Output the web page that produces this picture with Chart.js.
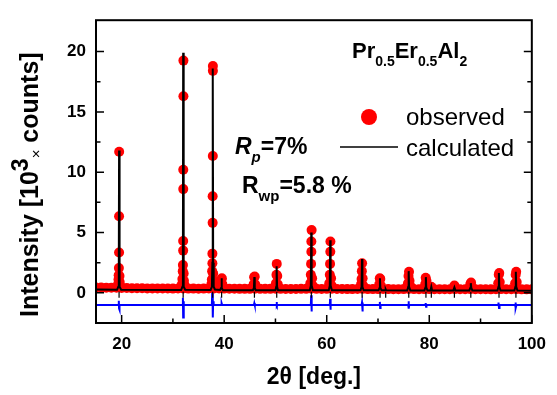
<!DOCTYPE html>
<html>
<head>
<meta charset="utf-8">
<script src="https://cdn.jsdelivr.net/npm/chart.js@4.4.1/dist/chart.umd.min.js"></script>
<style>
  html, body { margin: 0; padding: 0; background: #fff; }
  #wrap { width: 557px; height: 395px; }
</style>
</head>
<body>
<div id="wrap"><canvas id="xrd" width="557" height="395"></canvas></div>
<script>
// --- data (2theta in deg, intensity in 10^3 counts) ---

// observed background, one point per degree
const observedBackground = [
  [15,0.45],[16,0.44],[17,0.43],[18,0.42],[19,0.42],[20,0.41],[21,0.40],[22,0.39],[23,0.38],[24,0.38],
  [25,0.37],[26,0.37],[27,0.36],[28,0.36],[29,0.36],[30,0.35],[31,0.36],[32,0.36],[33,0.35],[34,0.35],
  [35,0.34],[36,0.35],[37,0.36],[38,0.36],[39,0.36],[40,0.35],[41,0.34],[42,0.34],[43,0.33],[44,0.33],
  [45,0.33],[46,0.34],[47,0.33],[48,0.33],[49,0.33],[50,0.34],[51,0.33],[52,0.32],[53,0.32],[54,0.32],
  [55,0.33],[56,0.33],[57,0.34],[58,0.33],[59,0.32],[60,0.33],[61,0.34],[62,0.32],[63,0.32],[64,0.31],
  [65,0.31],[66,0.32],[67,0.33],[68,0.31],[69,0.31],[70,0.31],[71,0.32],[72,0.31],[73,0.30],[74,0.30],
  [75,0.31],[76,0.32],[77,0.31],[78,0.30],[79,0.31],[80,0.31],[81,0.30],[82,0.30],[83,0.30],[84,0.30],
  [85,0.31],[86,0.30],[87,0.30],[88,0.31],[89,0.30],[90,0.30],[91,0.30],[92,0.29],[93,0.30],[94,0.31],
  [95,0.30],[96,0.30],[97,0.31],[98,0.29],[99,0.29],[100,0.29]
];

// observed points on the reflections
const observedPeaks = [
  [19.30,0.7],[19.38,1.1],[19.42,1.45],[19.46,2.05],[19.50,3.35],[19.50,6.35],[19.52,11.7],[19.58,1.4],[19.62,0.9],[19.70,0.6],
  [31.75,0.7],[31.85,1.15],[31.92,1.8],[31.95,2.3],[32.00,3.5],[32.00,4.3],[32.02,8.6],[32.02,10.2],[32.05,16.3],[32.05,19.25],[32.10,1.6],[32.15,1.0],[32.25,0.65],
  [37.50,0.7],[37.60,1.1],[37.65,1.8],[37.70,2.45],[37.70,3.25],[37.75,5.8],[37.75,8.0],[37.78,11.35],[37.80,18.4],[37.80,18.8],[37.85,1.6],[37.90,1.0],[38.00,0.6],
  [39.35,0.7],[39.45,1.1],[39.55,1.2],[39.65,0.7],
  [45.75,0.7],[45.85,1.3],[45.95,1.35],[46.05,0.7],
  [50.10,0.8],[50.20,1.5],[50.25,2.4],[50.35,1.4],[50.45,0.7],
  [56.80,0.8],[56.90,1.5],[56.95,2.4],[57.00,3.4],[57.00,4.25],[57.05,5.2],[57.15,1.2],[57.25,0.6],
  [60.50,0.8],[60.60,1.5],[60.65,2.4],[60.70,3.4],[60.72,4.25],[60.85,1.2],[60.95,0.6],
  [66.70,0.7],[66.80,1.15],[66.85,1.8],[66.90,2.45],[67.00,1.2],[67.10,0.6],
  [70.25,0.7],[70.35,1.2],[70.45,1.15],[70.55,0.6],
  [75.85,0.8],[75.95,1.4],[76.05,1.75],[76.15,1.0],[76.25,0.6],
  [79.20,0.7],[79.30,1.25],[79.45,1.0],[79.55,0.6],
  [80.40,0.5],[84.90,0.6],
  [88.00,0.7],[88.15,0.85],[88.30,0.5],
  [93.45,0.8],[93.55,1.5],[93.65,1.65],[93.75,0.9],
  [96.75,0.8],[96.85,1.5],[96.95,1.75],[97.05,0.9]
];

// calculated profile
const calculated = [
  [15,0.28],[19.1,0.25],[19.35,0.5],[19.45,2.5],[19.5,11.8],[19.55,2.5],[19.65,0.5],[19.9,0.26],
  [31.6,0.23],[31.85,0.5],[31.95,2.5],[32.0,19.9],[32.05,2.5],[32.15,0.5],[32.4,0.25],
  [37.35,0.24],[37.6,0.5],[37.7,2.5],[37.77,18.6],[37.85,2.5],[37.95,0.5],[38.2,0.28],
  [39.2,0.24],[39.4,0.4],[39.48,1.2],[39.56,0.4],[39.75,0.22],
  [45.6,0.22],[45.8,0.4],[45.88,1.3],[45.96,0.4],[46.15,0.22],
  [50.0,0.22],[50.15,0.5],[50.23,2.2],[50.32,0.5],[50.5,0.22],
  [56.7,0.22],[56.9,0.6],[56.98,5.0],[57.06,0.6],[57.3,0.22],
  [60.4,0.22],[60.6,0.6],[60.68,4.35],[60.76,0.6],[61.0,0.22],
  [66.6,0.21],[66.8,0.5],[66.88,2.8],[66.96,0.5],[67.2,0.21],
  [70.1,0.21],[70.3,0.4],[70.38,1.2],[70.46,0.4],[70.7,0.21],
  [71.4,0.21],[71.5,0.3],[71.6,0.21],
  [75.7,0.2],[75.9,0.5],[75.98,1.8],[76.06,0.5],[76.3,0.2],
  [79.05,0.2],[79.25,0.45],[79.33,1.3],[79.41,0.45],[79.65,0.2],
  [80.25,0.2],[80.4,0.5],[80.55,0.2],
  [84.7,0.2],[84.9,0.45],[85.1,0.2],
  [87.8,0.2],[88.0,0.4],[88.1,0.8],[88.2,0.4],[88.4,0.2],
  [93.3,0.19],[93.5,0.5],[93.58,1.65],[93.66,0.5],[93.9,0.19],
  [96.6,0.19],[96.8,0.5],[96.88,1.75],[96.96,0.5],[97.2,0.19],
  [100,0.18]
];

// observed - calculated (shifted down)
const difference = [
  [15,-1.0],[19.35,-1.0],[19.45,-0.65],[19.5,-1.3],[19.55,-1.4],[19.62,-1.0],
  [31.85,-1.0],[31.95,-0.4],[32.0,-2.05],[32.08,-0.7],[32.15,-1.0],
  [37.6,-1.0],[37.7,0.7],[37.78,-2.05],[37.85,-0.7],[37.95,-1.0],
  [39.4,-1.0],[39.5,-0.85],[39.6,-1.0],
  [45.8,-1.0],[45.88,-0.85],[45.96,-1.0],
  [50.15,-1.0],[50.22,-0.75],[50.3,-1.1],[50.4,-1.0],
  [56.9,-1.0],[56.97,-0.2],[57.03,-1.55],[57.1,-1.0],
  [60.6,-1.0],[60.66,-0.5],[60.72,-1.4],[60.8,-1.0],
  [66.8,-1.0],[66.88,-0.8],[66.95,-1.55],[67.05,-1.0],
  [70.3,-1.0],[70.36,-0.75],[70.42,-1.25],[70.5,-1.0],
  [75.9,-1.0],[75.96,-0.7],[76.02,-1.3],[76.1,-1.0],
  [79.25,-1.0],[79.3,-0.85],[79.38,-1.15],[79.45,-1.0],
  [93.45,-1.0],[93.5,-0.8],[93.6,-1.25],[93.7,-1.0],
  [96.75,-1.0],[96.8,-0.8],[96.9,-1.25],[97.0,-1.0],
  [100,-1.0]
];

// Bragg reflection markers
const braggPositions = [19.5, 32.0, 37.75, 39.5, 45.9, 50.25, 57.0, 60.7, 66.9, 70.4, 71.5, 76.0, 79.35, 80.4, 84.9, 88.1, 93.6, 96.9];
const braggLevel = -0.15;

const xMajorTicks = [20, 40, 60, 80, 100];
const xMinorTicks = [30, 50, 70, 90];
const yMajorTicks = [0, 5, 10, 15, 20];
const yMinorTicks = [2.5, 7.5, 12.5, 17.5];

const FONT = "'Liberation Sans', Arial, sans-serif";

const toPoints = arr => arr.map(([x, y]) => ({ x, y }));

// draws a run of text pieces with different fonts / vertical offsets
function drawRuns(ctx, x, y, runs) {
  runs.forEach(r => {
    ctx.font = r.font;
    ctx.fillText(r.text, x, y + (r.dy || 0));
    x += ctx.measureText(r.text).width;
  });
  return x;
}

const frameTicks = {
  id: 'frameTicks',
  afterDatasetsDraw(chart) {
    const { ctx, chartArea: a, scales: { x, y } } = chart;
    ctx.save();
    ctx.strokeStyle = '#000';
    ctx.lineWidth = 1.5;
    ctx.beginPath();
    const vTick = (v, len) => {
      const px = x.getPixelForValue(v);
      ctx.moveTo(px, a.bottom); ctx.lineTo(px, a.bottom - len);
    };
    const hTick = (v, len) => {
      const py = y.getPixelForValue(v);
      ctx.moveTo(a.left, py); ctx.lineTo(a.left + len, py);
      ctx.moveTo(a.right, py); ctx.lineTo(a.right - len, py);
    };
    xMajorTicks.forEach(v => vTick(v, 8));
    xMinorTicks.forEach(v => vTick(v, 4.5));
    yMajorTicks.forEach(v => hTick(v, 8));
    yMinorTicks.forEach(v => hTick(v, 4.5));
    ctx.stroke();
    ctx.lineWidth = 2;
    ctx.strokeRect(a.left, a.top, a.right - a.left, a.bottom - a.top);
    ctx.restore();
  }
};

const labels = {
  id: 'labels',
  afterDraw(chart) {
    const { ctx } = chart;
    ctx.save();
    ctx.fillStyle = '#000';
    ctx.textBaseline = 'alphabetic';
    ctx.textAlign = 'left';

    // compound name
    drawRuns(ctx, 352, 58, [
      { text: 'Pr', font: `bold 22px ${FONT}` },
      { text: '0.5', font: `bold 14px ${FONT}`, dy: 8 },
      { text: 'Er', font: `bold 22px ${FONT}` },
      { text: '0.5', font: `bold 14px ${FONT}`, dy: 8 },
      { text: 'Al', font: `bold 22px ${FONT}` },
      { text: '2', font: `bold 14px ${FONT}`, dy: 8 }
    ]);

    // R factors
    drawRuns(ctx, 235, 154, [
      { text: 'R', font: `italic bold 23px ${FONT}` },
      { text: 'p', font: `italic bold 15px ${FONT}`, dy: 8 },
      { text: '=7%', font: `bold 23px ${FONT}` }
    ]);
    drawRuns(ctx, 242, 193, [
      { text: 'R', font: `bold 23px ${FONT}` },
      { text: 'wp', font: `bold 15px ${FONT}`, dy: 8 },
      { text: '=5.8 %', font: `bold 23px ${FONT}` }
    ]);

    // legend
    ctx.fillStyle = '#ff0000';
    ctx.beginPath();
    ctx.arc(369, 117, 8, 0, Math.PI * 2);
    ctx.fill();
    ctx.strokeStyle = '#000';
    ctx.lineWidth = 1.5;
    ctx.beginPath();
    ctx.moveTo(340, 147); ctx.lineTo(398, 147);
    ctx.stroke();
    ctx.fillStyle = '#000';
    ctx.font = `24px ${FONT}`;
    ctx.fillText('observed', 406, 125);
    ctx.fillText('calculated', 406, 156);

    // y axis title
    ctx.translate(38, 317);
    ctx.rotate(-Math.PI / 2);
    drawRuns(ctx, 0, 0, [
      { text: 'Intensity [10', font: `bold 25px ${FONT}` },
      { text: '3', font: `bold 23px ${FONT}`, dy: -10 },
      { text: '\u00d7', font: `15px ${FONT}`, dy: 3 },
      { text: ' counts]', font: `bold 25px ${FONT}` }
    ]);
    ctx.restore();
  }
};

new Chart(document.getElementById('xrd'), {
  type: 'scatter',
  data: {
    datasets: [
      {
        label: 'calculated',
        type: 'line',
        data: toPoints(calculated),
        borderColor: '#000',
        borderWidth: 2,
        pointRadius: 0,
        tension: 0,
        order: 1
      },
      {
        label: 'bragg',
        data: braggPositions.map(v => ({ x: v, y: braggLevel })),
        pointStyle: 'line',
        rotation: 90,
        pointRadius: 3,
        borderColor: '#000',
        pointBorderColor: '#000',
        borderWidth: 1.2,
        order: 2
      },
      {
        label: 'observed',
        data: toPoints(observedBackground.concat(observedPeaks)),
        backgroundColor: '#ff0000',
        borderColor: '#ff0000',
        pointBackgroundColor: '#ff0000',
        pointBorderColor: '#ff0000',
        pointBorderWidth: 0,
        borderWidth: 0,
        pointRadius: 5,
        order: 3
      },
      {
        label: 'difference',
        type: 'line',
        data: toPoints(difference),
        borderColor: '#0000ff',
        borderWidth: 2,
        pointRadius: 0,
        tension: 0,
        order: 4
      }
    ]
  },
  options: {
    responsive: false,
    animation: false,
    events: [],
    layout: { padding: { left: 0, top: 11, right: 18, bottom: 0 } },
    plugins: { legend: { display: false }, tooltip: { enabled: false } },
    scales: {
      x: {
        type: 'linear',
        min: 15,
        max: 100,
        grid: { display: false, drawTicks: false },
        border: { display: false },
        afterBuildTicks: s => { s.ticks = xMajorTicks.map(v => ({ value: v })); },
        afterFit: s => { s.height = 72; },
        ticks: { padding: 11, color: '#000', font: { family: FONT, size: 17, weight: 'bold' } },
        title: {
          display: true,
          text: '2\u03b8 [deg.]',
          color: '#000',
          font: { family: FONT, size: 23, weight: 'bold' },
          padding: { top: 0, bottom: 4 }
        }
      },
      y: {
        min: -2.5,
        max: 22.6,
        grid: { display: false, drawTicks: false },
        border: { display: false },
        afterBuildTicks: s => { s.ticks = yMajorTicks.map(v => ({ value: v })); },
        afterFit: s => { s.width = 96; },
        ticks: { padding: 10, color: '#000', font: { family: FONT, size: 17, weight: 'bold' } }
      }
    }
  },
  plugins: [frameTicks, labels]
});
</script>
</body>
</html>
